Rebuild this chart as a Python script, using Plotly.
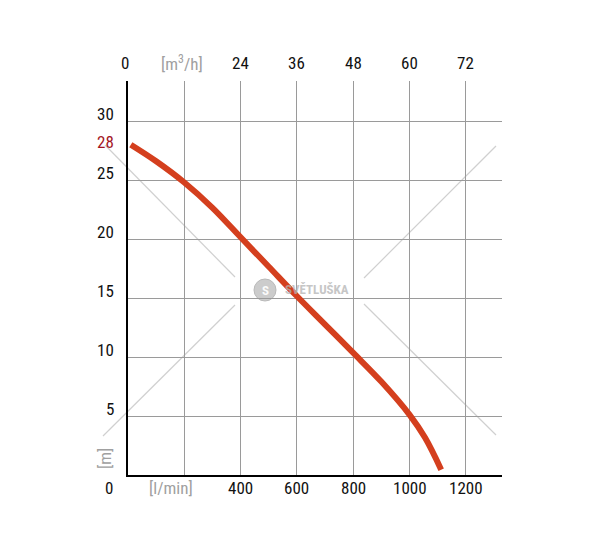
import plotly.graph_objects as go

# ---- data ----
flow_lmin = [10, 100, 200, 300, 400, 500, 600, 700, 800, 900, 1000, 1055, 1112]
head_m = [28.0, 26.6, 24.8, 22.65, 20.15, 17.65, 15.15, 12.75, 10.35, 7.9, 5.1, 3.15, 0.45]

x_grid = [200, 400, 600, 800, 1000, 1200]
y_grid = [5, 10, 15, 20, 25, 30]
bottom_tick_vals = [400, 600, 800, 1000, 1200]
bottom_tick_text = ["400", "600", "800", "1000", "1200"]
top_tick_vals = [400, 600, 800, 1000, 1200]
top_tick_text = ["24", "36", "48", "60", "72"]
left_tick_vals = [5, 10, 15, 20, 25, 30]
left_tick_text = ["5", "10", "15", "20", "25", "30"]
shutoff_head = 28

# ---- layout geometry (page pixels; body has an 8px margin) ----
BODY = 8
W, H = 600 - BODY, 550 - BODY
L_PAGE, T_PAGE, R_PAGE, B_PAGE = 128, 81, 502, 475
L, T = L_PAGE - BODY, T_PAGE - BODY
PW, PH = R_PAGE - L_PAGE, B_PAGE - T_PAGE
R, B = W - L - PW, H - T - PH


def px(x):
    return (x - L_PAGE) / PW


def py(y):
    return (B_PAGE - y) / PH


FONT = "Liberation Sans Narrow, Roboto Condensed, Roboto, sans-serif"
FS = 17
BLACK = "#111111"
GRAY = "#a0a0a0"


def label(x, y, text, xref="paper", yref="paper", color=BLACK, **kw):
    d = dict(x=x, y=y, xref=xref, yref=yref, text=text, showarrow=False,
             xanchor="center", yanchor="middle",
             font=dict(size=FS, color=color, family=FONT))
    d.update(kw)
    return d


fig = go.Figure()
fig.add_trace(go.Scatter(
    x=flow_lmin, y=head_m, mode="lines",
    line=dict(color="#d43f1e", width=6, shape="spline", smoothing=1.0),
    hoverinfo="skip", showlegend=False,
))

annotations = []
# bottom labels
annotations.append(label(px(109), py(488), "0"))
annotations.append(label(px(171), py(488), "[l/min]", color=GRAY))
for v, t in zip(bottom_tick_vals, bottom_tick_text):
    annotations.append(label(v, py(488), t, xref="x"))
# top labels
annotations.append(label(px(125), py(63), "0"))
annotations.append(label(px(182), py(63), "[m<sup>3</sup>/h]", color=GRAY))
for v, t in zip(top_tick_vals, top_tick_text):
    annotations.append(label(v, py(63), t, xref="x"))
# left labels
for v, t in zip(left_tick_vals, left_tick_text):
    annotations.append(label(px(116), v, t, yref="y", xanchor="right", yshift=7.5))
annotations.append(label(px(116), shutoff_head, str(shutoff_head), yref="y",
                         xanchor="right", yshift=2.5, color="#a3161f"))
annotations.append(label(px(105), py(459), "[m]", color=GRAY, textangle=-90))
# watermark
annotations.append(dict(x=px(283), y=py(289), xref="paper", yref="paper", text="<b>SVĚTLUŠKA</b>",
                        xanchor="left", yanchor="middle", showarrow=False, opacity=0.75,
                        font=dict(size=13, color="#b4b4b4", family=FONT)))
annotations.append(dict(x=px(265), y=py(290), xref="paper", yref="paper", text="<b>S</b>",
                        xanchor="center", yanchor="middle", showarrow=False, opacity=0.9,
                        font=dict(size=13, color="#ffffff", family=FONT)))

shapes = []
diag = [((105, 145), (235, 277)), ((103, 436), (235, 305)),
        ((364, 278), (496, 146)), ((364, 304), (496, 435))]
for (x0, y0), (x1, y1) in diag:
    shapes.append(dict(type="line", xref="paper", yref="paper",
                       x0=px(x0), y0=py(y0), x1=px(x1), y1=py(y1),
                       line=dict(color="#d0d0d0", width=1.2), layer="below"))
shapes.append(dict(type="circle", xref="paper", yref="paper",
                   x0=px(254), y0=py(279), x1=px(276), y1=py(301),
                   fillcolor="#cccccc", line=dict(color="#bababa", width=1), layer="below"))

fig.update_layout(
    width=W, height=H,
    margin=dict(l=L, r=R, t=T, b=B, pad=0),
    paper_bgcolor="white", plot_bgcolor="white",
    showlegend=False,
    annotations=annotations,
    shapes=shapes,
    xaxis=dict(range=[0, 1328], tickvals=x_grid, showticklabels=False, ticks="",
               showgrid=True, gridcolor="#9a9a9a", gridwidth=1, zeroline=False,
               showline=True, linecolor="#000000", linewidth=2, fixedrange=True),
    yaxis=dict(range=[0, 33.4], tickvals=y_grid, showticklabels=False, ticks="",
               showgrid=True, gridcolor="#9a9a9a", gridwidth=1, zeroline=False,
               showline=True, linecolor="#000000", linewidth=2, fixedrange=True),
)

fig.write_html("out.html")
